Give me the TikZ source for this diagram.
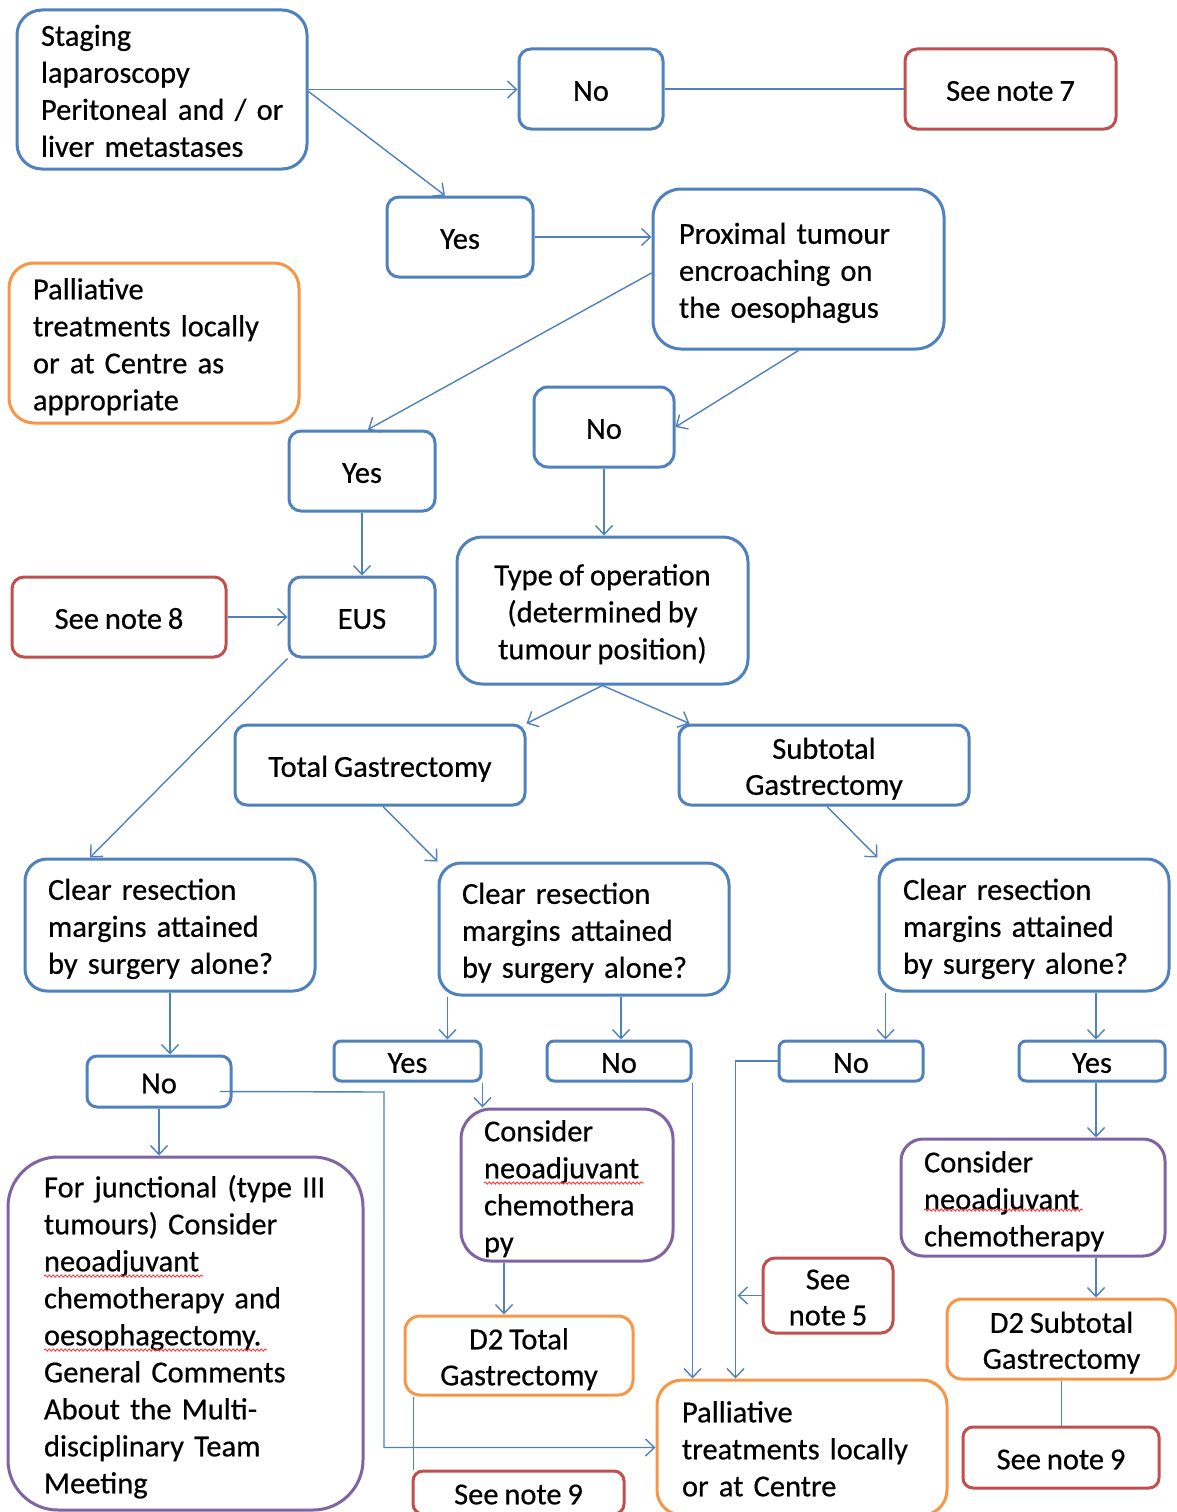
\documentclass[tikz,border=0pt]{standalone}
\usepackage{fontspec}
\setmainfont{Carlito}[WordSpace=0.85, FakeBold=0.5]
\usetikzlibrary{arrows.meta,decorations.pathmorphing}
\definecolor{ublue}{HTML}{4F81BD}
\definecolor{ured}{HTML}{C0504D}
\definecolor{uorange}{HTML}{F79646}
\definecolor{upurple}{HTML}{8064A2}
\definecolor{squig}{HTML}{FF3B3B}

% fixed line box: tall first line, deep last line
\newcommand\topstrut{\rule{0pt}{30.3pt}}
\newcommand\botstrut{\rule[-6.7pt]{0pt}{6.7pt}}

% box given by its corners (x1,y1)-(x2,y2), text centred
\newcommand\boxat[7]{%
  \pgfmathsetmacro\bxW{#5-#3}%
  \pgfmathsetmacro\bxH{#6-#4}%
  \pgfmathsetmacro\bxX{(#3+#5)/2}%
  \pgfmathsetmacro\bxY{(#4+#6)/2}%
  \node[#2, minimum width=\bxW pt, minimum height=\bxH pt] (#1) at (\bxX,\bxY)
    {\topstrut#7\botstrut};}
% same, text set flush left with a left padding
\newcommand\lboxat[8]{%
  \pgfmathsetmacro\bxW{#5-#3}%
  \pgfmathsetmacro\bxH{#6-#4}%
  \pgfmathsetmacro\bxX{(#3+#5)/2}%
  \pgfmathsetmacro\bxY{(#4+#6)/2}%
  \pgfmathsetmacro\bxT{#5-#3-2*#7}%
  \node[#2, minimum width=\bxW pt, minimum height=\bxH pt, align=left,
        inner xsep=#7 pt, text width=\bxT pt] (#1) at (\bxX,\bxY)
    {\topstrut#8\botstrut};}

\begin{document}
\begin{tikzpicture}[x=1pt,y=-1pt,
  base/.style={rectangle, line width=3pt, fill=white, inner sep=0pt, align=center,
    font=\fontsize{30.5}{37}\selectfont, text=black},
  bluebox/.style={base, draw=ublue},
  redbox/.style={base, draw=ured},
  orangebox/.style={base, draw=uorange},
  purplebox/.style={base, draw=upurple},
  conn/.style={draw=ublue, line width=1.4pt,
    -{Straight Barb[length=9pt,width=17pt]}},
  link/.style={draw=ublue, line width=1.4pt},
  wavy/.style={draw=squig, line width=0.9pt, decorate,
    decoration={snake, segment length=4pt, amplitude=1.1pt}}]

\fill[white] (0,0) rectangle (1176,1512);
\useasboundingbox (0,0) rectangle (1176,1512);

% ---- upper part
\lboxat{stage}{bluebox, rounded corners=25pt}{17}{10}{307}{169}{24}
  {\mbox{Staging}\\\mbox{laparoscopy}\\\mbox{Peritoneal and / or}\\\mbox{liver metastases}}
\boxat{no1}{bluebox, rounded corners=12pt}{519}{49}{663}{129}{No}
\boxat{note7}{redbox, rounded corners=12pt}{905}{49}{1116}{129}{See note 7}
\boxat{yes1}{bluebox, rounded corners=12pt}{387}{197}{533}{277}{Yes}
\lboxat{prox}{bluebox, rounded corners=28pt}{653}{189}{944}{349}{26}
  {\mbox{Proximal tumour}\\\mbox{encroaching on}\\\mbox{the oesophagus}}
\lboxat{pall1}{orangebox, rounded corners=25pt}{9}{263}{299}{423}{24}
  {\mbox{Palliative}\\\mbox{treatments locally}\\\mbox{or at Centre as}\\\mbox{appropriate}}
\boxat{no2}{bluebox, rounded corners=14pt}{534}{387}{674}{467}{No}
\boxat{yes2}{bluebox, rounded corners=12pt}{289}{431}{435}{511}{Yes}
\boxat{note8}{redbox, rounded corners=12pt}{12}{577}{226}{657}{See note 8}
\boxat{eus}{bluebox, rounded corners=12pt}{289}{577}{435}{657}{EUS}
\boxat{type}{bluebox, rounded corners=25pt}{457}{537}{748}{684}
  {Type of operation\\(determined by\\tumour position)}

% ---- middle part
\boxat{total}{bluebox, rounded corners=12pt}{235}{725}{525}{805}{Total Gastrectomy}
\boxat{subtotal}{bluebox, rounded corners=12pt}{679}{725}{969}{805}{Subtotal\\[-1pt]Gastrectomy}
\lboxat{clearL}{bluebox, rounded corners=22pt}{25}{859}{315}{991}{23}
  {\mbox{Clear resection}\\\mbox{margins attained}\\\mbox{by surgery alone?}}
\lboxat{clearM}{bluebox, rounded corners=22pt}{439}{863}{729}{995}{23}
  {\mbox{Clear resection}\\\mbox{margins attained}\\\mbox{by surgery alone?}}
\lboxat{clearR}{bluebox, rounded corners=22pt}{879}{859}{1169}{991}{24}
  {\mbox{Clear resection}\\\mbox{margins attained}\\\mbox{by surgery alone?}}

% ---- answers
\boxat{noL}{bluebox, rounded corners=10pt}{87}{1056}{231}{1107}{No}
\boxat{yesM}{bluebox, rounded corners=7pt}{334}{1041}{481}{1081}{Yes}
\boxat{noM}{bluebox, rounded corners=7pt}{547}{1041}{691}{1081}{No}
\boxat{noR}{bluebox, rounded corners=7pt}{779}{1041}{923}{1081}{No}
\boxat{yesR}{bluebox, rounded corners=7pt}{1019}{1041}{1165}{1081}{Yes}

% ---- lower part
\lboxat{considerM}{purplebox, rounded corners=30pt}{461}{1109}{673}{1261}{23}
  {\mbox{Consider}\\\mbox{neoadjuvant}\\\mbox{chemothera}\\\mbox{py}}
\lboxat{considerR}{purplebox, rounded corners=22pt}{901}{1139}{1165}{1256}{23}
  {\mbox{Consider}\\\mbox{neoadjuvant}\\\mbox{chemotherapy}}
\lboxat{junc}{purplebox, rounded corners=50pt}{8}{1157}{363}{1510}{36}
  {\mbox{For junctional (type III}\\\mbox{tumours) Consider}\\\mbox{neoadjuvant}\\
   \mbox{chemotherapy and}\\\mbox{oesophagectomy.}\\\mbox{General Comments}\\
   \mbox{About the Multi-}\\\mbox{disciplinary Team}\\\mbox{Meeting}}
\boxat{note5}{redbox, rounded corners=12pt}{763}{1258}{893}{1333}{See\\[-1pt]note 5}
\boxat{d2T}{orangebox, rounded corners=15pt}{405}{1316}{633}{1395}{D2 Total\\[-1pt]Gastrectomy}
\boxat{d2S}{orangebox, rounded corners=15pt}{947}{1299}{1176}{1379}{D2 Subtotal\\[-1pt]Gastrectomy}
\lboxat{pall2}{orangebox, rounded corners=25pt}{657}{1380}{947}{1515}{25}
  {\mbox{Palliative}\\\mbox{treatments locally}\\\mbox{or at Centre}}
\boxat{note9M}{redbox, rounded corners=10pt}{413}{1471}{624}{1514}{See note 9}
\boxat{note9R}{redbox, rounded corners=10pt}{963}{1427}{1159}{1488}{See note 9}

% ---- connectors, top to bottom
\draw[conn] (stage.east) -- (stage.east -| no1.west);
\draw[conn] ([yshift=-2pt]stage.east) -- ([xshift=-15pt]yes1.north);
\draw[link] (no1.east) -- (no1.east -| note7.west);
\draw[conn] (yes1.east) -- (yes1.east -| prox.west);
\draw[conn] ([yshift=-4pt]prox.west) -- ([xshift=6pt]yes2.north);
\draw[conn] (prox.south) -- (no2.east);
\draw[conn] (no2.south) -- (no2.south |- type.north);
\draw[conn] (yes2.south) -- (eus.north);
\draw[conn] (note8.east) -- (eus.west);
\draw[conn] (eus.south west) -- ([xshift=-80pt]clearL.north);
\draw[conn] (type.south) -- (total.north east);
\draw[conn] (type.south) -- ([xshift=12pt]subtotal.north west);
\draw[conn] ([xshift=3pt]total.south) -- (clearM.north west);
\draw[conn] ([xshift=3pt]subtotal.south) -- (clearR.north west);

\draw[conn] (clearL.south) -- (clearL.south |- noL.north);
\draw[conn] (noL.south) -- (noL.south |- junc.north);
\coordinate (elbowA) at (384,1092);
\draw[conn] ([xshift=61pt,yshift=-10pt]noL.center) -- (elbowA)
  -- (elbowA |- pall2.west) -- (pall2.west);

\draw[conn] ([xshift=10pt]clearM.south west) -- ([xshift=10pt]clearM.south west |- yesM.north);
\draw[conn] ([xshift=2pt]clearM.south -| noM.north) -- ([xshift=2pt]noM.north);
\draw[conn] (yesM.south east) -- (yesM.south east |- considerM.north);
\draw[conn] ([xshift=-15pt]d2T.north |- considerM.south) -- ([xshift=-15pt]d2T.north);
\draw[conn] (noM.south east) -- (noM.south east |- pall2.north);
\draw[link] ([xshift=10pt]d2T.south west) -- ([xshift=10pt]d2T.south west |- note9M.north);

\coordinate (dropR) at ([xshift=80pt]pall2.north west);
\draw[conn] (noR.west) -| (dropR);
\draw[conn] (note5.west) -- ([xshift=2pt]note5.west -| dropR);

\coordinate (colR) at (1096,0);
\draw[conn] ([xshift=8pt]clearR.south west) -- ([xshift=8pt]clearR.south west |- noR.north);
\draw[conn] (clearR.south -| colR) -- (yesR.north -| colR);
\draw[conn] (yesR.south -| colR) -- (considerR.north -| colR);
\draw[conn] (considerR.south -| colR) -- (d2S.north -| colR);
\draw[link] (d2S.south) -- (d2S.south |- note9R.north);

% ---- spelling marks under unknown words
\draw[wavy] (484,1183) -- (644,1183);
\draw[wavy] (924,1210) -- (1083,1210);
\draw[wavy] (44,1276) -- (203,1276);
\draw[wavy] (44,1350) -- (267,1350);
\end{tikzpicture}
\end{document}
